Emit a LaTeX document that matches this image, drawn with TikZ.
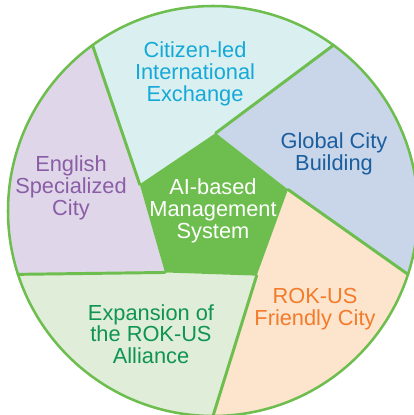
\documentclass[tikz,border=0pt]{standalone}
\usepackage{fontspec}
\setmainfont{Liberation Sans}
\usepackage{tikz}

\definecolor{ringgreen}{HTML}{6DBE4E}
\definecolor{citizenfill}{HTML}{DAEFF0}
\definecolor{citizentext}{HTML}{15A9D8}
\definecolor{globalfill}{HTML}{C9D5E8}
\definecolor{globaltext}{HTML}{1A5EA0}
\definecolor{rokfill}{HTML}{FDE4CD}
\definecolor{roktext}{HTML}{F37B2A}
\definecolor{alliancefill}{HTML}{DFEDD9}
\definecolor{alliancetext}{HTML}{109451}
\definecolor{englishfill}{HTML}{DFD7E9}
\definecolor{englishtext}{HTML}{8A5DA6}

\tikzset{
  label text/.style={align=center, font=\fontsize{15.5}{15.4}\selectfont},
  spoke/.style={draw=ringgreen, line width=2.1pt, line cap=round},
}

\begin{document}
\begin{tikzpicture}[x=0.025cm, y=0.025cm]
\useasboundingbox (-213,-204) rectangle (201,211);
\clip (-213,-204) rectangle (201,211);

% inner pentagon corners and outer spoke ends
\coordinate (in1) at (88:78);
\coordinate (in2) at (16:78);
\coordinate (in3) at (-56:78);
\coordinate (in4) at (-128:78);
\coordinate (in5) at (160:78);
\coordinate (out1) at (54:205);
\coordinate (out2) at (-18:205);
\coordinate (out3) at (-90:205);
\coordinate (out4) at (198:205);
\coordinate (out5) at (126:205);

% sectors
\fill[citizenfill] (in5) -- (out5) arc[start angle=126, end angle=54, radius=205] -- (in1) -- cycle;
\fill[globalfill] (in1) -- (out1) arc[start angle=54, end angle=-18, radius=205] -- (in2) -- cycle;
\fill[rokfill] (in2) -- (out2) arc[start angle=-18, end angle=-90, radius=205] -- (in3) -- cycle;
\fill[alliancefill] (in3) -- (out3) arc[start angle=-90, end angle=-162, radius=205] -- (in4) -- cycle;
\fill[englishfill] (in4) -- (out4) arc[start angle=198, end angle=126, radius=205] -- (in5) -- cycle;

% centre
\fill[ringgreen] (in1) -- (in2) -- (in3) -- (in4) -- (in5) -- cycle;

\foreach \i in {1,...,5}
  \draw[spoke] (in\i) -- (out\i);
\draw[ringgreen, line width=1.8pt] (0,0) circle[radius=205];

\node[label text, text=white] (ai) at (0,0) {AI-based\\Management\\System};
\node[label text, text=citizentext] (citizen) at (-18,137) {Citizen-led\\International\\Exchange};
\node[label text, text=globaltext] (global) at (121,57) {Global City\\Building};
\node[label text, text=roktext] (rok) at (102,-98) {ROK-US\\Friendly City};
\node[label text, text=alliancetext] (alliance) at (-62,-123) {Expansion of\\the ROK-US\\Alliance};
\node[label text, text=englishtext] (english) at (-142,23) {English\\Specialized\\City};
\end{tikzpicture}
\end{document}
